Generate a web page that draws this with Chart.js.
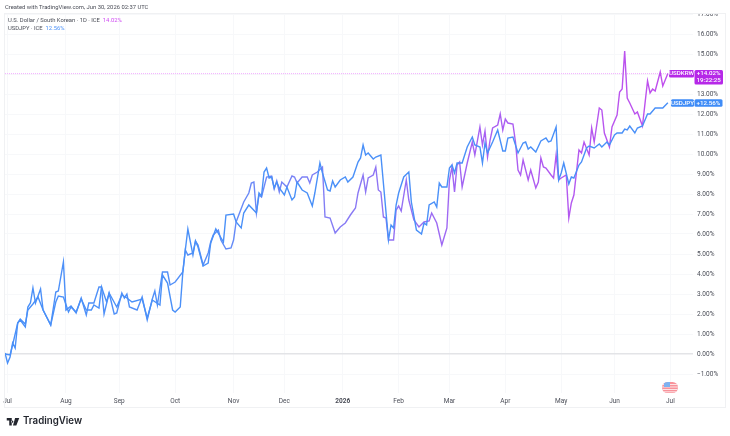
<!DOCTYPE html>
<html>
<head>
<meta charset="utf-8">
<title>USDKRW vs USDJPY</title>
<script src="https://cdn.jsdelivr.net/npm/chart.js@4/dist/chart.umd.min.js"></script>
<style>
  html, body { margin: 0; background: #fff; }
  #wrap { position: relative; width: 730px; height: 436px; overflow: hidden; font-family: Roboto, sans-serif; color: #4a4d57; }
  #wrap canvas { position: absolute; left: 0; top: 0; }
  .note { position: absolute; white-space: nowrap; font-size: 5.85px; line-height: 8px; }
  .krw { color: #cf4cf2; }
  .jpy { color: #4a90f8; }
  #brand { position: absolute; left: 23px; top: 414px; font: 600 9.7px/14px Inter, sans-serif; color: #23262e; }
  svg { position: absolute; }
</style>
</head>
<body>
<div id="wrap">
  <canvas id="chart" width="730" height="436"></canvas>
  <div class="note" style="left:5px;top:3px">Created with TradingView.com, Jun 30, 2026 02:37 UTC</div>
  <div class="note" style="left:8px;top:16px">U.S. Dollar / South Korean · 1D · ICE &nbsp;<span class="krw">14.02%</span></div>
  <div class="note" style="left:8px;top:24px">USDJPY · ICE &nbsp;<span class="jpy">12.56%</span></div>

  <svg style="left:6px;top:418px" width="14" height="7.5" viewBox="0 0 15 9">
    <path d="M0 0H6V9H3V3H0Z M6.5 3a1.4 1.4 0 1 0 .01 0Z M10 0H15L11.5 9H7.5Z" fill="#23262e"/>
  </svg>
  <div id="brand">TradingView</div>

  <svg style="left:662px;top:382px" width="16" height="11" viewBox="0 0 16 11">
    <defs><clipPath id="pill"><rect width="16" height="11" rx="5.5"/></clipPath></defs>
    <g clip-path="url(#pill)">
      <rect width="16" height="11" fill="#f8929a"/>
      <rect y="2" width="16" height="1" fill="#fde3e5"/>
      <rect y="4.5" width="16" height="1" fill="#fde3e5"/>
      <rect y="7" width="16" height="1" fill="#fde3e5"/>
      <rect y="9.3" width="16" height="1" fill="#fde3e5"/>
      <rect x="2" width="6" height="5" fill="#7fb2f0"/>
    </g>
  </svg>
</div>

<script>
// Bar numbers count trading sessions from 30 Jun 2025
const monthSessions = [1, 24, 45, 67, 90, 110, 133, 155, 175, 197, 219, 240, 262];
const monthLabels = ['Jul', 'Aug', 'Sep', 'Oct', 'Nov', 'Dec', '2026', 'Feb', 'Mar', 'Apr', 'May', 'Jun', 'Jul'];
const percentTicks = [-1, 0, 1, 2, 3, 4, 5, 6, 7, 8, 9, 10, 11, 12, 13, 14, 15, 16, 17];

const krwSessions = [0, 1, 2, 3, 4, 5, 6, 8, 9, 10, 11, 12, 14, 15, 18, 20, 21, 23, 24, 26, 28, 30, 32, 33, 35, 37, 38, 39, 41, 43, 44, 46, 47, 48, 49, 52, 54, 56, 58, 59, 60, 62, 64, 65, 67, 70, 71, 72, 74, 75, 76, 78, 80, 81, 82, 84, 85, 87, 89, 90, 91, 94, 96, 97, 98, 99, 100, 101, 103, 105, 106, 107, 108, 109, 111, 113, 114, 115, 117, 119, 120, 121, 123, 125, 126, 128, 130, 132, 134, 136, 138, 139, 141, 142, 143, 145, 146, 147, 148, 149, 150, 151, 153, 154, 155, 156, 158, 159, 161, 163, 165, 167, 168, 170, 172, 174, 175, 176, 177, 178, 179, 180, 181, 182, 184, 185, 187, 188, 189, 190, 191, 192, 194, 195, 196, 197, 198, 200, 201, 202, 203, 204, 206, 207, 209, 210, 211, 212, 213, 215, 216, 217, 218, 219, 221, 222, 223, 224, 226, 227, 228, 230, 231, 232, 234, 235, 236, 238, 239, 241, 242, 243, 244, 245, 246, 248, 249, 251, 253, 254, 255, 256, 258, 259, 261];
const krwValues = [0.05, -0.45, -0.15, 0.55, 0.3, 1.55, 1.7, 1.35, 2.35, 2.55, 3.3, 2.55, 3.25, 2.2, 1.45, 3.1, 3.15, 4.6, 2.2, 2.4, 2.05, 2.8, 1.95, 2.55, 2.55, 3.35, 3.35, 2.0, 3.05, 2.0, 2.05, 3.05, 2.8, 3.0, 2.35, 2.2, 2.85, 1.7, 2.75, 3.15, 2.45, 4.1, 4.1, 3.45, 3.6, 4.1, 5.2, 4.95, 5.05, 5.65, 5.45, 4.45, 5.05, 5.6, 5.95, 6.2, 5.7, 5.25, 5.3, 5.7, 6.6, 7.6, 8.05, 8.55, 8.6, 7.05, 7.95, 7.85, 8.85, 8.9, 8.25, 8.65, 8.1, 8.6, 8.35, 8.9, 8.85, 8.55, 8.85, 8.85, 8.55, 8.95, 9.1, 9.35, 6.85, 6.8, 6.05, 6.35, 6.55, 6.95, 7.3, 8.05, 8.95, 8.1, 8.8, 8.95, 9.35, 8.2, 8.1, 6.85, 6.8, 5.7, 5.7, 7.2, 7.4, 7.15, 8.7, 7.7, 6.7, 6.35, 6.6, 6.65, 7.05, 6.55, 5.45, 6.3, 8.7, 9.35, 8.1, 9.45, 9.6, 8.35, 8.95, 9.55, 10.6, 9.95, 11.35, 10.45, 11.15, 9.85, 10.7, 11.3, 11.45, 12.0, 11.2, 11.75, 11.55, 11.5, 10.6, 9.2, 8.95, 9.7, 8.7, 9.2, 8.3, 8.6, 9.8, 9.35, 9.3, 8.95, 8.8, 9.95, 8.7, 8.8, 8.95, 6.8, 7.55, 7.95, 10.2, 10.05, 10.6, 9.95, 11.3, 10.6, 12.3, 12.2, 11.05, 10.35, 11.35, 11.95, 13.1, 13.25, 15.15, 12.8, 12.55, 12.0, 12.1, 11.4, 13.65, 13.05, 13.25, 13.15, 14.1, 13.4, 14.02];

const jpySessions = [0, 2, 3, 5, 6, 8, 9, 11, 13, 15, 17, 18, 20, 21, 23, 25, 26, 28, 30, 32, 34, 35, 37, 38, 40, 41, 44, 46, 48, 50, 54, 56, 58, 61, 62, 64, 66, 67, 69, 70, 71, 72, 74, 75, 76, 78, 80, 81, 83, 86, 87, 90, 91, 93, 94, 96, 99, 100, 101, 102, 103, 104, 105, 106, 107, 108, 110, 111, 113, 114, 115, 117, 119, 121, 122, 124, 125, 127, 128, 129, 130, 132, 134, 135, 137, 139, 140, 141, 142, 143, 145, 146, 148, 151, 152, 153, 154, 155, 157, 159, 160, 162, 164, 165, 166, 167, 169, 170, 171, 172, 174, 175, 176, 177, 178, 180, 182, 184, 185, 187, 188, 189, 190, 192, 194, 196, 197, 198, 200, 202, 204, 205, 206, 207, 209, 211, 213, 214, 215, 217, 218, 219, 220, 222, 223, 224, 226, 227, 229, 230, 232, 234, 235, 237, 238, 240, 241, 243, 244, 245, 246, 248, 249, 251, 253, 254, 256, 258, 259, 261];
const jpyValues = [0, -0.05, 0.45, 1.55, 1.75, 1.5, 2.2, 2.5, 2.85, 2.2, 1.7, 1.45, 2.6, 2.9, 2.85, 2.1, 2.35, 2.1, 2.75, 2.2, 2.2, 2.45, 2.3, 3.35, 2.6, 3.05, 2.35, 2.95, 2.8, 2.6, 2.75, 1.8, 2.7, 2.45, 3.95, 3.55, 2.2, 2.1, 2.35, 4.05, 5.2, 6.25, 4.95, 5.65, 5.35, 4.4, 4.55, 5.55, 6.25, 5.6, 6.95, 7.0, 6.6, 6.3, 7.05, 7.45, 7.05, 8.05, 7.9, 9.1, 9.3, 8.8, 8.85, 8.3, 8.6, 8.3, 7.95, 8.35, 7.7, 7.85, 8.6, 8.2, 8.05, 7.4, 8.05, 9.55, 9.05, 8.2, 8.15, 8.65, 8.35, 8.7, 8.85, 8.6, 8.85, 9.6, 9.8, 10.45, 9.95, 10.05, 9.75, 9.85, 9.95, 5.7, 6.45, 6.3, 7.45, 8.05, 8.85, 9.1, 7.6, 6.2, 6.0, 6.55, 6.45, 7.45, 7.6, 7.35, 8.55, 8.35, 8.35, 9.3, 9.45, 9.05, 9.55, 9.55, 10.35, 10.85, 10.45, 10.35, 9.55, 10.55, 10.05, 10.6, 11.2, 10.15, 10.15, 10.8, 10.85, 10.05, 10.55, 10.6, 10.25, 10.35, 10.1, 10.65, 10.8, 10.6, 10.65, 11.35, 8.7, 9.05, 9.55, 8.5, 8.85, 8.8, 9.45, 9.6, 10.3, 10.4, 10.3, 10.5, 10.35, 10.6, 10.45, 10.95, 11.05, 11.05, 11.25, 11.2, 11.4, 11.05, 11.3, 11.4, 12.0, 12.0, 12.3, 12.3, 12.3, 12.56];

const lastKrw = krwValues[krwValues.length - 1];
const lastJpy = jpyValues[jpyValues.length - 1];
const PLOT_TOP = -1.95;
const PLOT_MAX = 17.05;
const LAST_BAR = 270.9;

function toPoints(sessions, values) {
  return sessions.map((s, i) => ({ x: s, y: values[i] }));
}

// The won line fades from blue on the left to magenta on the right
function krwGradient(context) {
  const { chart } = context;
  if (!chart.chartArea) return '#8f63f5';
  const g = chart.ctx.createLinearGradient(chart.chartArea.left, 0, chart.chartArea.right, 0);
  g.addColorStop(0, '#4a90f8');
  g.addColorStop(0.26, '#5390f8');
  g.addColorStop(0.45, '#8080f5');
  g.addColorStop(0.7, '#a860f2');
  g.addColorStop(1, '#c44cec');
  return g;
}

function pill(c, x, y, w, h, fill, radius) {
  c.fillStyle = fill;
  c.beginPath();
  c.roundRect(x, y, w, h, radius);
  c.fill();
}

// Outer frame and the last-value tags on the price axis
const framePlugin = {
  id: 'frame',
  afterDraw(chart) {
    const c = chart.ctx;
    const yAxis = chart.scales.y;
    c.save();
    // the top tick label is cut off by the chart's upper edge
    c.fillStyle = '#fff';
    c.fillRect(693, 0, 37, 13);
    c.strokeStyle = '#f0f1f3';
    c.lineWidth = 1;
    c.strokeRect(4.5, 13.5, 721, 394);

    c.font = '500 6.2px Roboto, sans-serif';
    c.textBaseline = 'middle';
    c.textAlign = 'center';

    const krwY = yAxis.getPixelForValue(lastKrw);
    pill(c, 669, krwY - 3.5, 25, 7.5, '#b628e8', 1.5);
    pill(c, 694.5, krwY - 3.5, 28.5, 14.5, '#b628e8', 1.5);
    c.fillStyle = '#fff';
    c.fillText('USDKRW', 681.5, krwY + 0.3);
    c.fillText('+' + lastKrw.toFixed(2) + '%', 708.7, krwY + 0.3);
    c.fillText('19:22:25', 708.7, krwY + 7);

    const jpyY = yAxis.getPixelForValue(lastJpy);
    pill(c, 671, jpyY - 3.5, 23, 7.5, '#3f8cf7', 1.5);
    pill(c, 694.5, jpyY - 3.5, 28, 7.5, '#3f8cf7', 1.5);
    c.fillStyle = '#fff';
    c.fillText('USDJPY', 682.5, jpyY + 0.3);
    c.fillText('+' + lastJpy.toFixed(2) + '%', 708.5, jpyY + 0.3);
    c.restore();
  }
};

new Chart(document.getElementById('chart'), {
  type: 'line',
  data: {
    datasets: [
      {
        label: 'USDJPY',
        data: toPoints(jpySessions, jpyValues),
        borderColor: '#4a90f8',
        borderWidth: 1.4,
        pointRadius: 0,
        tension: 0,
      },
      {
        label: 'USDKRW',
        data: toPoints(krwSessions, krwValues),
        borderColor: krwGradient,
        borderWidth: 1.4,
        pointRadius: 0,
        tension: 0,
      },
      {
        label: 'USDKRW last',
        data: [{ x: 0, y: lastKrw }, { x: LAST_BAR, y: lastKrw }],
        borderColor: '#f3aeff',
        borderWidth: 1,
        borderDash: [1, 1],
        pointRadius: 0,
        tension: 0,
      }
    ]
  },
  options: {
    responsive: false,
    animation: false,
    parsing: false,
    layout: { padding: { left: 5, top: 13, right: 5, bottom: 29 } },
    plugins: { legend: { display: false }, tooltip: { enabled: false } },
    scales: {
      x: {
        type: 'linear',
        min: 0,
        max: LAST_BAR,
        afterBuildTicks(axis) { axis.ticks = monthSessions.map(v => ({ value: v })); },
        afterFit(axis) { axis.height = 14; axis.paddingLeft = 0; axis.paddingRight = 0; },
        grid: { color: '#f7f8fa', lineWidth: 1, drawTicks: false },
        border: { display: false },
        ticks: {
          autoSkip: false,
          maxRotation: 0,
          padding: 4,
          color: '#4a4d57',
          font: c => ({ family: 'Roboto, sans-serif', size: 6.5, weight: monthLabels[c.index] === '2026' ? 'bold' : 'normal' }),
          callback: (v, i) => monthLabels[i],
        }
      },
      y: {
        position: 'right',
        min: PLOT_TOP,
        max: PLOT_MAX,
        afterBuildTicks(axis) { axis.ticks = percentTicks.map(v => ({ value: v })); },
        afterFit(axis) { axis.width = 32; axis.paddingTop = 0; axis.paddingBottom = 0; },
        grid: {
          color: c => c.tick && c.tick.value === 0 ? '#e3e4e7' : '#f7f8fa',
          lineWidth: c => c.tick && c.tick.value === 0 ? 1.5 : 1,
          drawTicks: false,
        },
        border: { display: false },
        ticks: {
          autoSkip: false,
          padding: 4,
          color: '#4a4d57',
          font: { family: 'Roboto, sans-serif', size: 6.5 },
          callback: v => (v < 0 ? '\u2212' : '') + Math.abs(v).toFixed(2) + '%',
        }
      }
    }
  },
  plugins: [framePlugin]
});
</script>
</body>
</html>
